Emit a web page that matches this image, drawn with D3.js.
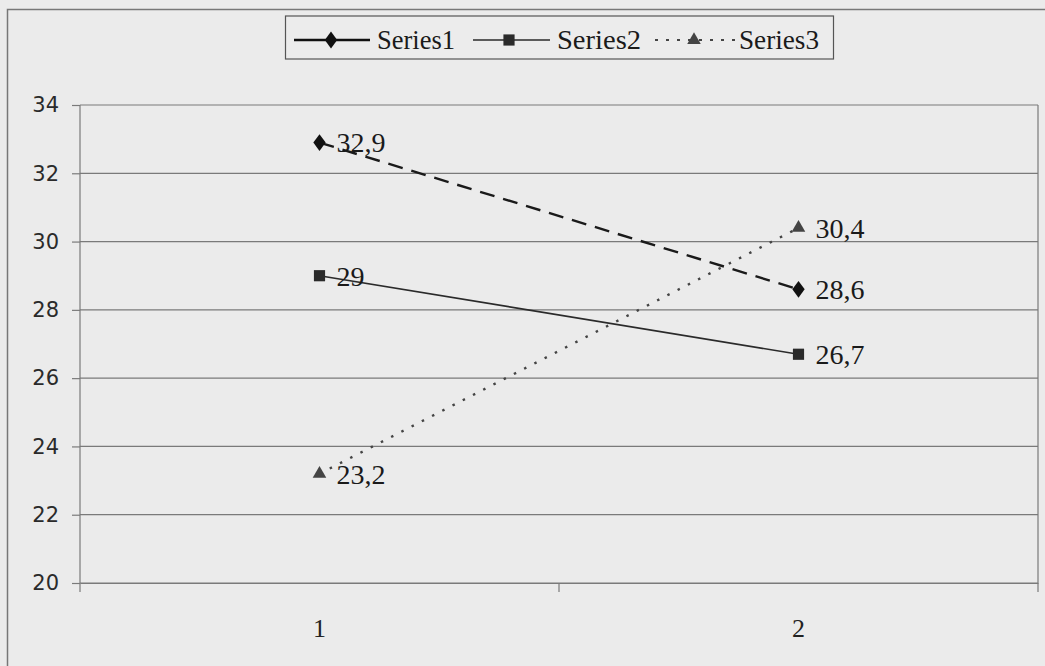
<!DOCTYPE html>
<html><head><meta charset="utf-8">
<script src="https://cdn.jsdelivr.net/npm/d3@7"></script>
<style>body{margin:0;background:#ebebeb}svg{display:block}</style>
</head><body>
<svg id="c" width="1045" height="666"></svg>
<script>
const categories = ["1", "2"];
const series1 = [32.9, 28.6];
const series2 = [29, 26.7];
const series3 = [23.2, 30.4];
const seriesNames = ["Series1", "Series2", "Series3"];
const yTicks = [20, 22, 24, 26, 28, 30, 32, 34];
const dataLabels1 = ["32,9", "28,6"];
const dataLabels2 = ["29", "26,7"];
const dataLabels3 = ["23,2", "30,4"];

const svg = d3.select("#c");
const W = 1045, H = 666;
const m = {l: 80, r: 1038, t: 105, b: 583};
svg.append("rect").attr("width", W).attr("height", H).attr("fill", "#ebebeb");
// outer chart frame
svg.append("path").attr("d", `M7.5,${H} V9.5 H${W}`).attr("fill", "none").attr("stroke", "#777").attr("stroke-width", 1.5);

const x = d3.scaleBand().domain(categories).range([m.l, m.r]);
const y = d3.scaleLinear().domain([20, 34]).range([m.b, m.t]);
const cx = d => x(d) + x.bandwidth() / 2;

// gridlines
svg.append("g").selectAll("line").data(yTicks).join("line")
  .attr("x1", m.l).attr("x2", m.r).attr("y1", d => y(d)).attr("y2", d => y(d))
  .attr("stroke", "#7a7a7a").attr("stroke-width", 1.2);
// right border
svg.append("line").attr("x1", m.r).attr("x2", m.r).attr("y1", m.t).attr("y2", m.b + 9)
  .attr("stroke", "#7a7a7a").attr("stroke-width", 1.2);

// y axis
const ya = svg.append("g").attr("transform", `translate(${m.l},0)`)
  .call(d3.axisLeft(y).tickValues(yTicks).tickSize(8).tickPadding(13).tickSizeOuter(0));
ya.select(".domain").attr("stroke", "#7a7a7a").attr("stroke-width", 1.2).attr("d", `M0,${m.t}V${m.b + 9}`);
ya.selectAll(".tick line").attr("stroke", "#7a7a7a").attr("stroke-width", 1.2);
ya.selectAll("text").attr("font-family", "DejaVu Sans").attr("font-size", 21).attr("fill", "#2a2a2a");

// x axis
const xa = svg.append("g").attr("transform", `translate(0,${m.b})`)
  .call(d3.axisBottom(x).tickSize(0).tickPadding(36));
xa.select(".domain").attr("stroke", "#7a7a7a").attr("stroke-width", 1.2);
xa.selectAll("text").attr("font-family", "Liberation Serif").attr("font-size", 26).attr("fill", "#222");
xa.selectAll(".bt").data([categories[0]]).join("line").attr("class", "bt")
  .attr("x1", d => x(d) + x.bandwidth()).attr("x2", d => x(d) + x.bandwidth())
  .attr("y1", 0).attr("y2", 9).attr("stroke", "#7a7a7a").attr("stroke-width", 1.2);

const line = d3.line().x((d, i) => cx(categories[i])).y(d => y(d));
svg.append("path").datum(series1).attr("d", line).attr("fill", "none").attr("stroke", "#1a1a1a").attr("stroke-width", 2.4).attr("stroke-dasharray", "15,9");
svg.append("path").datum(series2).attr("d", line).attr("fill", "none").attr("stroke", "#2a2a2a").attr("stroke-width", 1.7);
svg.append("path").datum(series3).attr("d", line).attr("fill", "none").attr("stroke", "#444").attr("stroke-width", 2.4).attr("stroke-dasharray", "2.5,9");

const sym = [d3.symbolDiamond, d3.symbolSquare, d3.symbolTriangle];
const symSize = [100, 125, 80];
const symCol = ["#111", "#2a2a2a", "#444"];
const allSeries = [series1, series2, series3];
const allLabels = [dataLabels1, dataLabels2, dataLabels3];
allSeries.forEach((s, k) => {
  svg.append("g").selectAll("path").data(s).join("path")
    .attr("transform", (d, i) => `translate(${cx(categories[i])},${y(d)})` + (k === 0 ? " scale(1.15,0.9)" : ""))
    .attr("d", d3.symbol().type(sym[k]).size(symSize[k])).attr("fill", symCol[k]);
  svg.append("g").selectAll("text").data(s).join("text")
    .attr("x", (d, i) => cx(categories[i]) + 17).attr("y", d => y(d)).attr("dy", "0.35em")
    .attr("font-family", "Liberation Serif").attr("font-size", 28).attr("fill", "#1a1a1a")
    .text((d, i) => allLabels[k][i]);
});

// legend
const lg = svg.append("g");
lg.append("rect").attr("x", 285.5).attr("y", 16).attr("width", 548).attr("height", 43)
  .attr("fill", "#ececec").attr("stroke", "#555").attr("stroke-width", 1.2);
const legItems = [
  {x1: 294, x2: 370, mx: 331, tx: 377, tw: 78, dash: null, w: 2.4},
  {x1: 473, x2: 550, mx: 509, tx: 557, tw: 84, dash: null, w: 1.7},
  {x1: 655, x2: 735, mx: 694, tx: 739, tw: 80, dash: "3,8", w: 2}
];
legItems.forEach((it, k) => {
  lg.append("line").attr("x1", it.x1).attr("x2", it.x2).attr("y1", 40).attr("y2", 40)
    .attr("stroke", symCol[k]).attr("stroke-width", it.w).attr("stroke-dasharray", it.dash);
  lg.append("path").attr("transform", `translate(${it.mx},40)` + (k === 0 ? " scale(1.15,0.9)" : ""))
    .attr("d", d3.symbol().type(sym[k]).size(symSize[k])).attr("fill", symCol[k]);
  lg.append("text").attr("x", it.tx).attr("y", 40).attr("dy", "0.35em")
    .attr("font-family", "Liberation Serif").attr("font-size", 27).attr("fill", "#1a1a1a")
    .attr("textLength", it.tw).attr("lengthAdjust", "spacingAndGlyphs").text(seriesNames[k]);
});
</script>
</body></html>
